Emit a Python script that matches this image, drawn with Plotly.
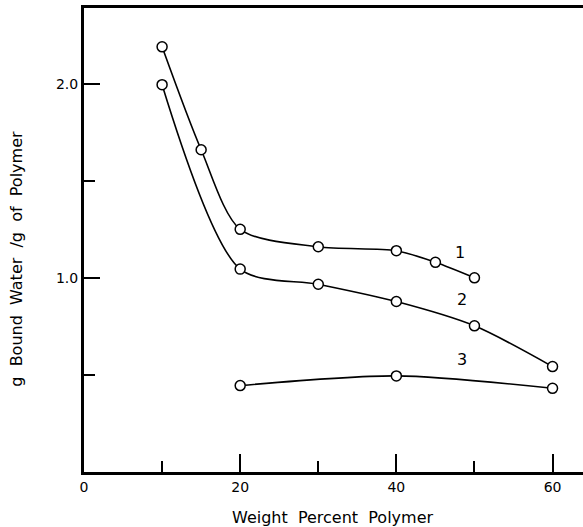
import plotly.graph_objects as go

# Data
x1 = [10, 15, 20, 30, 40, 45, 50]
y1 = [2.19, 1.66, 1.25, 1.16, 1.14, 1.08, 1.00]
x2 = [10, 20, 30, 40, 50, 60]
y2 = [1.995, 1.045, 0.967, 0.878, 0.753, 0.543]
x3 = [20, 40, 60]
y3 = [0.445, 0.495, 0.431]

curve_labels = ["1", "2", "3"]
label_x = [48.2, 48.4, 48.4]
label_y = [1.13, 0.89, 0.58]

x_tickvals = [0, 20, 40, 60]
x_ticktext = ["0", "20", "40", "60"]
x_minor = [10, 30, 50]
y_tickvals = [1.0, 2.0]
y_ticktext = ["1.0", "2.0"]
y_minor = [0.5, 1.5]

FONT = "DejaVu Sans"

fig = go.Figure()
for xs, ys in [(x1, y1), (x2, y2), (x3, y3)]:
    fig.add_trace(go.Scatter(
        x=xs, y=ys, mode="lines+markers",
        line=dict(color="black", width=1.6, shape="spline", smoothing=0.8),
        marker=dict(symbol="circle", size=10, color="white",
                    line=dict(color="black", width=1.5)),
        showlegend=False, cliponaxis=False))

for t, lx, ly in zip(curve_labels, label_x, label_y):
    fig.add_annotation(x=lx, y=ly, text=t, showarrow=False,
                       font=dict(family=FONT, size=16, color="black"))

fig.add_annotation(xref="paper", yref="paper", x=0.499, y=-0.097,
                   text="Weight  Percent  Polymer", showarrow=False,
                   font=dict(family=FONT, size=16, color="black"),
                   xanchor="center", yanchor="middle")
fig.add_annotation(xref="paper", yref="paper", x=-0.136, y=0.46,
                   text="g  Bound  Water  /g  of  Polymer", showarrow=False,
                   textangle=-90,
                   font=dict(family=FONT, size=16, color="black"),
                   xanchor="center", yanchor="middle")

fig.update_layout(
    width=583, height=527,
    margin=dict(l=84, r=0, t=8, b=55),
    paper_bgcolor="white", plot_bgcolor="white",
    font=dict(family=FONT, size=14, color="black"),
    xaxis=dict(range=[0, 63.9], showgrid=False, zeroline=False,
               showline=True, linewidth=3, linecolor="black", mirror=True,
               tickmode="array", tickvals=x_tickvals, ticktext=x_ticktext,
               ticks="inside", ticklen=18, tickwidth=2, tickcolor="black",
               minor=dict(tickmode="array", tickvals=x_minor, ticks="inside",
                          ticklen=11, tickwidth=2, tickcolor="black"),
               tickfont=dict(family=FONT, size=14)),
    yaxis=dict(range=[0, 2.39], showgrid=False, zeroline=False,
               showline=True, linewidth=3, linecolor="black", mirror=False,
               tickmode="array", tickvals=y_tickvals, ticktext=y_ticktext,
               ticks="inside", ticklen=16, tickwidth=2, tickcolor="black",
               minor=dict(tickmode="array", tickvals=y_minor, ticks="inside",
                          ticklen=11, tickwidth=2, tickcolor="black"),
               tickfont=dict(family=FONT, size=14)),
)

fig.write_html("out.html")
